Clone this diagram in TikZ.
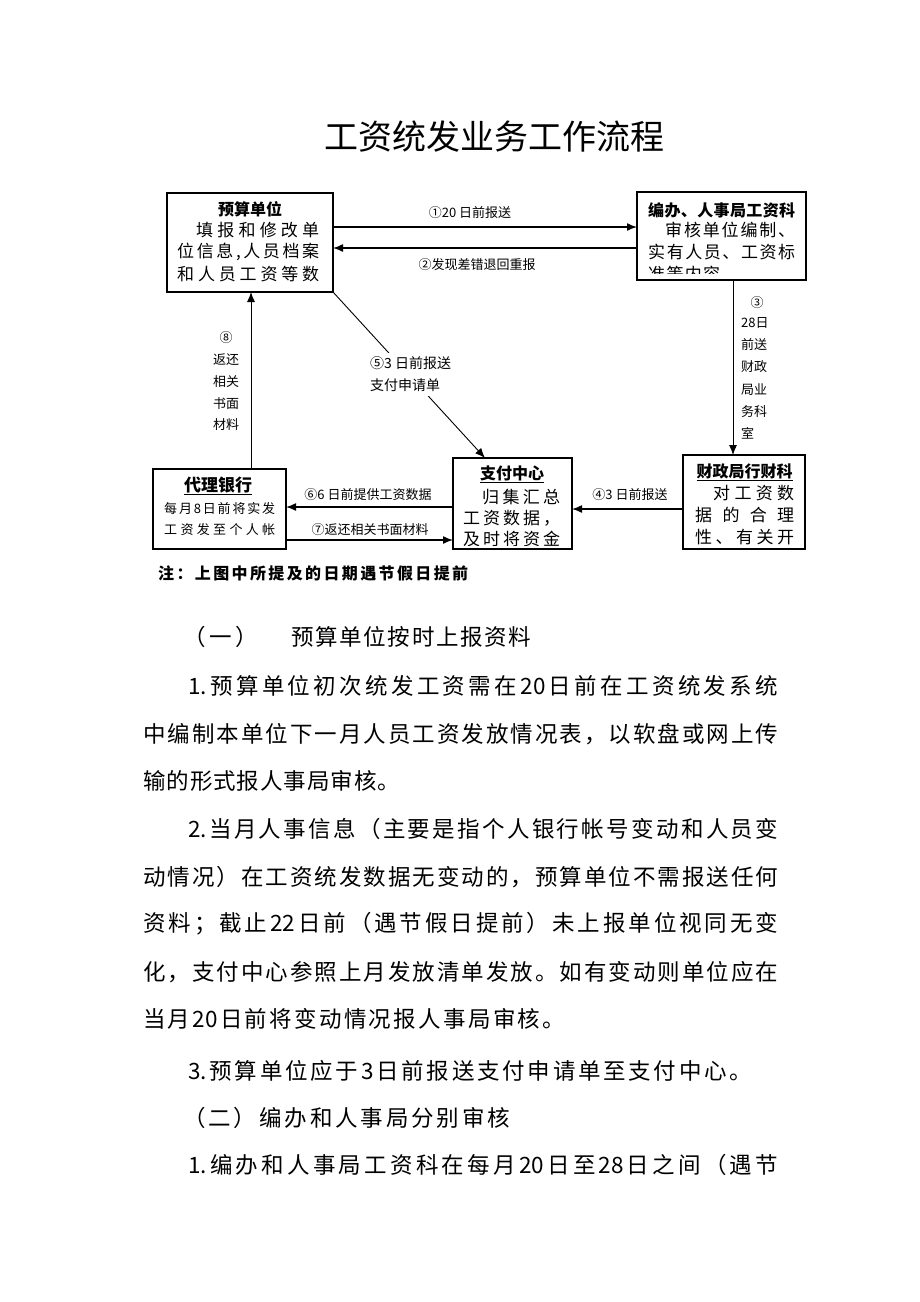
\documentclass[tikz,border=0pt]{standalone}
\usepackage{fontspec}
\setmainfont{Noto Sans CJK SC}
\usetikzlibrary{arrows.meta}
\ExplSyntaxOn
\NewDocumentCommand\jl{mm}{\hbox~to~#1pt{\tl_map_inline:nn{#2}{##1\hfil}\unskip}}
\ExplSyntaxOff
\begin{document}
\begin{tikzpicture}[x=1pt,y=-1pt,
  box/.style={draw, line width=1.3pt, inner sep=0pt, outer sep=0pt},
  harr/.style={-{Latex[length=10pt,width=8pt]}, line width=1.4pt},
  varr/.style={-{Latex[length=10pt,width=8pt]}, line width=0.9pt},
  lbl/.style={font=\fontsize{13}{15}\selectfont, inner sep=0pt},
  btxt/.style={font=\fontsize{17}{20}\selectfont, anchor=west, inner sep=0pt},
  stxt/.style={font=\fontsize{13}{15}\selectfont, anchor=west, inner sep=0pt},
  btitle/.style={font=\fontsize{16}{19}\selectfont\bfseries, inner sep=0pt},
  body/.style={font=\fontsize{22.5}{27}\selectfont, anchor=west, inner sep=0pt}]
\fill[white] (0,0) rectangle (920,1302);
\useasboundingbox (0,0) rectangle (920,1302);
% title
\node[inner sep=0pt, font=\fontsize{34}{40}\selectfont] (title) at (494,137) {工资统发业务工作流程};
% boxes
\node[box, minimum width=166pt, minimum height=99pt] (b1) at (250,242.5) {};
\node[box, minimum width=169pt, minimum height=88pt] (b2) at (721.5,236) {};
\node[box, minimum width=122pt, minimum height=94pt] (b3) at (744,502) {};
\node[box, minimum width=119pt, minimum height=91pt] (b4) at (512.5,503.5) {};
\node[box, minimum width=133pt, minimum height=80pt] (b5) at (219.5,509) {};
% box 1 text
\node[btitle] (t1) at (250,209) {预算单位};
\node[btxt] (t1a) at (196,230) {\jl{123}{填报和修改单}};
\node[btxt] (t1b) at (177,252) {\jl{142}{位信息,人员档案}};
\node[btxt] (t1c) at (177,274) {\jl{142}{和人员工资等数}};
% box 2 text
\node[btitle, anchor=west] (t2) at (648,210) {\jl{147}{编办、人事局工资科}};
\node[btxt] (t2a) at (665,230) {\jl{130}{审核单位编制、}};
\node[btxt] (t2b) at (648,252) {\jl{147}{实有人员、工资标}};
\begin{scope}
\clip (b2.west |- 0,200) rectangle (b2.east |- 0,273);
\node[btxt] (t2c) at (648,274) {\jl{72}{准等内容}};
\end{scope}
% box 3 text
\node[btitle] (t3) at (744.5,472) {\underline{财政局行财科}};
\node[btxt] (t3a) at (713,493) {\jl{81}{对工资数}};
\node[btxt] (t3b) at (695,515) {\jl{99}{据的合理}};
\node[btxt] (t3c) at (695,537) {\jl{99}{性、有关开}};
% box 4 text
\node[btitle] (t4) at (512,474) {\underline{支付中心}};
\node[btxt] (t4a) at (482,497) {\jl{78}{归集汇总}};
\node[btxt] (t4b) at (463,518) {\jl{97}{工资数据，}};
\begin{scope}
\clip (b4.west |- 0,460) rectangle (b4.east |- 0,545);
\node[btxt] (t4c) at (463,539) {\jl{97}{及时将资金}};
\end{scope}
% box 5 text
\node[btitle, font=\fontsize{17}{20}\selectfont\bfseries] (t5) at (218,486) {\underline{代理银行}};
\node[stxt] (t5a) at (164,509) {\jl{111}{每月8日前将实发}};
\node[stxt] (t5b) at (164,530) {\jl{111}{工资发至个人帐}};
% connectors
\draw[harr] ([yshift=15.5pt]b1.east) -- ([yshift=15.5pt]b1.east -| b2.west);
\draw[harr] ([yshift=-5.5pt]b1.east -| b2.west) -- ([yshift=-5.5pt]b1.east);
\draw[varr] ([xshift=11.5pt]b2.south) -- ([xshift=11.5pt]b2.south |- b3.north);
\draw[harr] ([yshift=-7pt]b3.west) -- ([yshift=-7pt]b3.west -| b4.east);
\draw[varr] (b1.south east) -- ([xshift=-27.5pt]b4.north);
\draw[harr] ([yshift=2pt]b5.east -| b4.west) -- ([yshift=2pt]b5.east);
\draw[harr] ([yshift=-31pt]b5.east) -- ([yshift=-31pt]b5.east -| b4.west);
\draw[varr] ([xshift=31.5pt]b5.north) -- ([xshift=31.5pt]b5.north |- b1.south);
% labels
\node[lbl] (l1) at (470,213) {①20 日前报送};
\node[lbl] (l2) at (477,265) {②发现差错退回重报};
\node[lbl] (l4) at (630,495) {④3 日前报送};
\node[lbl] (l6) at (368,495) {⑥6 日前提供工资数据};
\node[lbl] (l7) at (370,530) {⑦返还相关书面材料};
\node[lbl, fill=white, inner sep=4pt, align=left, anchor=west, font=\fontsize{14}{22}\selectfont] (l5) at (366,374) {⑤3 日前报送\\支付申请单};
\node[lbl, align=center, font=\fontsize{13}{21.75}\selectfont] (l8) at (226,381.5) {⑧\\返还\\相关\\书面\\材料};
\node[lbl] (l3a) at (757,303) {③};
\node[lbl, align=left, anchor=north west, font=\fontsize{13}{22.3}\selectfont] (l3b) at (741,317) {28日\\前送\\财政\\局业\\务科\\室};
% note
\node[anchor=west, inner sep=0pt, font=\fontsize{16}{19}\selectfont\bfseries] (note) at (158,573) {\jl{310}{注：上图中所提及的日期遇节假日提前}};
% body text
\node[body] (h1a) at (183,637) {\jl{75}{（一）}};
\node[body] (h1b) at (291,637) {\jl{240}{预算单位按时上报资料}};
\node[body] (p1) at (188,686) {\jl{590}{{1.}预算单位初次统发工资需在{20}日前在工资统发系统}};
\node[body] (p2) at (143,734) {\jl{635}{中编制本单位下一月人员工资发放情况表，以软盘或网上传}};
\node[body] (p3) at (143,781) {\jl{257}{输的形式报人事局审核。}};
\node[body] (p4) at (188,829) {\jl{590}{{2.}当月人事信息（主要是指个人银行帐号变动和人员变}};
\node[body] (p5) at (143,877) {\jl{635}{动情况）在工资统发数据无变动的，预算单位不需报送任何}};
\node[body] (p6) at (143,924) {\jl{635}{资料；截止{22}日前（遇节假日提前）未上报单位视同无变}};
\node[body] (p7) at (143,972) {\jl{635}{化，支付中心参照上月发放清单发放。如有变动则单位应在}};
\node[body] (p8) at (143,1019) {\jl{422}{当月{20}日前将变动情况报人事局审核。}};
\node[body] (p9) at (188,1071) {\jl{564}{{3.}预算单位应于{3}日前报送支付申请单至支付中心。}};
\node[body] (h2) at (183,1118) {\jl{327}{（二）编办和人事局分别审核}};
\node[body] (p10) at (188,1165) {\jl{590}{{1.}编办和人事局工资科在每月{20}日至{28}日之间（遇节}};
\end{tikzpicture}
\end{document}
